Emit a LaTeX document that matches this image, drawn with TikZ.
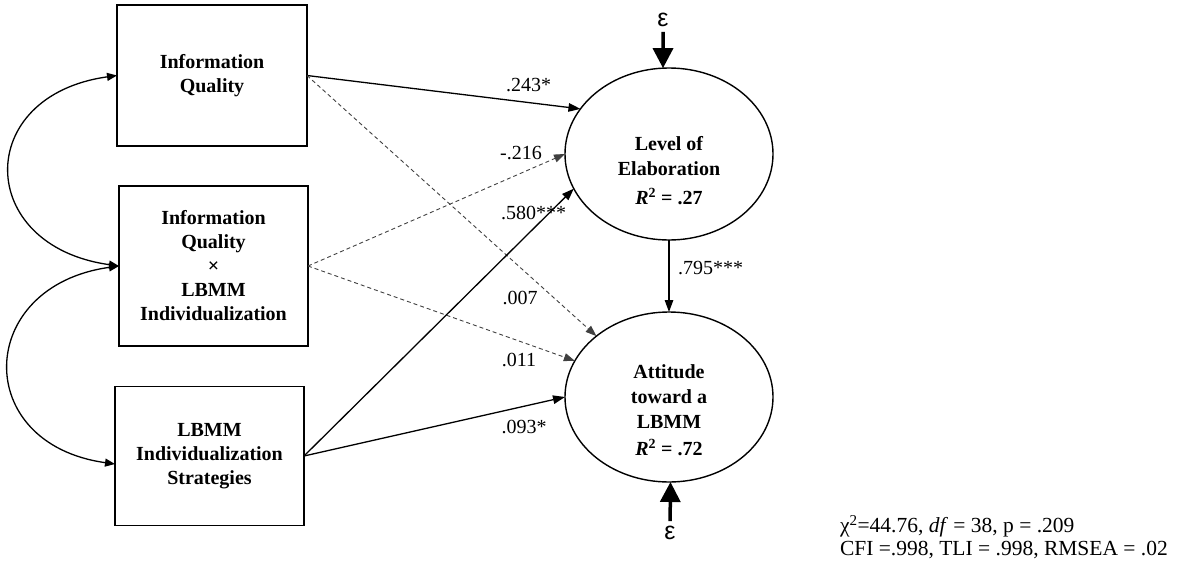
\documentclass[tikz,border=0pt]{standalone}
\usepackage{fontspec}
\setmainfont{Liberation Serif}
\newfontfamily\epsfont{Liberation Sans}
\usetikzlibrary{arrows.meta,shapes.geometric}

\begin{document}
\begin{tikzpicture}[x=1pt,y=-1pt,
  every node/.style={inner sep=0pt, outer sep=0pt},
  varbox/.style={draw, line width=1.4pt, rectangle, align=center,
    font=\bfseries\fontsize{20}{24}\selectfont},
  latent/.style={draw, ellipse, line width=1.4pt,
    minimum width=208pt, minimum height=172pt},
  ltext/.style={align=center, font=\bfseries\fontsize{20}{25}\selectfont},
  coef/.style={font=\fontsize{20}{24}\selectfont},
  sigpath/.style={line width=1.3pt, -{Triangle[length=12pt,width=8.5pt]}},
  nspath/.style={line width=0.9pt, black!75, dash pattern=on 4pt off 3pt,
    -{Triangle[length=11pt,width=8pt]}},
  covpath/.style={line width=1.3pt,
    {Triangle[length=10pt,width=8pt]}-{Triangle[length=10pt,width=8pt]}},
  errpath/.style={line width=3.5pt, -{Triangle[length=20pt,width=20pt]}},
  errlabel/.style={inner sep=5pt, font=\epsfont\fontsize{25}{25}\selectfont},
  fitstats/.style={align=left, font=\fontsize{21.5}{23}\selectfont}
]
\useasboundingbox (0,0) rectangle (1186,565);

% observed variables
\node[varbox, minimum width=190pt, minimum height=141pt] (iq) at (212,75.5)
  {Information\\Quality};
\node[varbox, minimum width=189pt, minimum height=160pt] (iqx) at (213.5,266)
  {Information\\Quality\\×\\LBMM\\Individualization};
\node[varbox, minimum width=189pt, minimum height=139pt] (lbmm) at (209.5,456)
  {LBMM\\Individualization\\Strategies};

% endogenous variables
\node[latent] (elab) at (669,154) {};
\node[ltext] (elabtxt) at (669,171)
  {Level of\\Elaboration\\[4pt]\textit{R}\textsuperscript{2} = .27};
\node[latent, minimum height=170pt] (att) at (669,397) {};
\node[ltext] (atttxt) at (669,410.5)
  {Attitude\\toward a\\LBMM\\[2pt]\textit{R}\textsuperscript{2} = .72};

% disturbances
\node[errlabel] (eps1) at (663,20) {ε};
\node[errlabel] (eps2) at (670,533) {ε};
\draw[errpath] (eps1) -- (elab.94);
\draw[errpath] (eps2) -- (att.-89);

% covariances among predictors
\draw[covpath] (iq.west) .. controls +(-144,20) and +(-144,-20) .. (iqx.west);
\draw[covpath] (iqx.west) .. controls +(-144,20) and +(-144,-20) .. ([yshift=-8pt]lbmm.west);

% structural paths
\draw[sigpath] (iq.east) -- (elab.153.7);
\draw[nspath] (iq.east) -- (att.140);
\draw[nspath] (iqx.east) -- (elab.180);
\draw[nspath] (iqx.east) -- (att.159);
\draw[sigpath] (lbmm.east) -- (elab.200.6);
\draw[sigpath] (lbmm.east) -- (att.180);
\draw[sigpath] (elab.south) -- (att.north);

% path coefficients
\node[coef] (c1) at (528.7,85) {.243*};
\node[coef] (c2) at (521,153) {-.216};
\node[coef] (c3) at (533.5,213) {.580***};
\node[coef] (c4) at (520,298) {.007};
\node[coef] (c5) at (519,360) {.011};
\node[coef] (c6) at (524,427) {.093*};
\node[coef, anchor=west] (c7) at (678,268) {.795***};

% model fit
\node[fitstats, anchor=west] (fit) at (840,537)
  {χ\textsuperscript{2}=44.76, \textit{df} = 38, p = .209\\CFI =.998, TLI = .998, RMSEA = .02};
\end{tikzpicture}
\end{document}
